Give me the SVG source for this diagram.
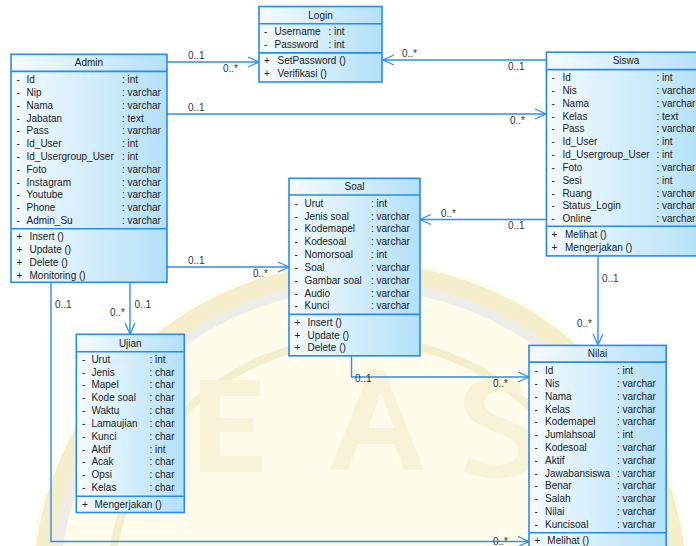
<svg xmlns="http://www.w3.org/2000/svg" width="696" height="546" viewBox="0 0 696 546">
  <defs>
    <linearGradient id="fillCls" x1="0" y1="0" x2="1" y2="0">
      <stop offset="0" stop-color="#F5FBFF"/>
      <stop offset="1" stop-color="#B3E0F8"/>
    </linearGradient>
    <marker id="open" markerUnits="userSpaceOnUse" markerWidth="14" markerHeight="14" refX="12" refY="6" orient="auto">
      <path d="M1,1 L12,6 L1,11" fill="none" stroke="#2E8DF0" stroke-width="1.3"/>
    </marker>
  </defs>
  <style>
    text { font-family: "Liberation Sans", Arial, sans-serif; font-size: 10px; fill: #222; }
    .box { fill: url(#fillCls); stroke: #2A8AEE; stroke-width: 1.6; }
    .div { stroke: #2A8AEE; stroke-width: 1.6; }
    .title { text-anchor: middle; }
    .conn { fill: none; stroke: #2E8DF0; stroke-width: 1.4; }
    .lbl { fill: #333; }
    .wm { fill: none; stroke: #F3ECC4; }
  </style>

  <rect width="696" height="546" fill="#FFFFFF"/>

  <!-- faint emblem in the background -->
  <g id="emblem" opacity="0.85">
    <circle cx="360" cy="590" r="330" fill="#FFFCE8"/>
    <circle class="wm" cx="360" cy="590" r="318" stroke-width="18"/>
    <circle cx="360" cy="590" r="305" fill="none" stroke="#ECEBE4" stroke-width="10"/>
    <circle class="wm" cx="360" cy="590" r="250" stroke-width="8"/>
    <path d="M200,380 h60 v16 h-40 v22 h34 v14 h-34 v24 h42 v16 h-62 z" fill="#F6F0D2"/>
    <path d="M330,470 l40,-100 h14 l40,100 h-20 l-10,-26 h-36 l-10,26 z M368,428 h26 l-13,-36 z" fill="#F6F0D2" fill-rule="evenodd"/>
    <path d="M520,385 c-20,-14 -56,-8 -56,18 c0,30 54,26 54,48 c0,16 -30,18 -50,6 l-4,14 c26,14 74,8 74,-22 c0,-30 -54,-28 -54,-46 c0,-14 24,-14 38,-6 z" fill="#F6F0D2"/>
  </g>

  <!-- associations -->
  <g id="connectors">
    <!-- Admin -> Login -->
    <line class="conn" x1="167" y1="62" x2="259" y2="62" marker-end="url(#open)"/>
    <text class="lbl" x="188" y="59">0..1</text>
    <text class="lbl" x="223" y="72">0..*</text>
    <!-- Siswa -> Login -->
    <line class="conn" x1="546" y1="60" x2="383" y2="60" marker-end="url(#open)"/>
    <text class="lbl" x="402" y="57">0..*</text>
    <text class="lbl" x="508" y="70">0..1</text>
    <!-- Admin -> Siswa -->
    <line class="conn" x1="167" y1="114" x2="546" y2="114" marker-end="url(#open)"/>
    <text class="lbl" x="188" y="111">0..1</text>
    <text class="lbl" x="510" y="124">0..*</text>
    <!-- Siswa -> Soal -->
    <line class="conn" x1="546" y1="219.5" x2="420" y2="219.5" marker-end="url(#open)"/>
    <text class="lbl" x="441" y="216.5">0..*</text>
    <text class="lbl" x="508" y="229">0..1</text>
    <!-- Admin -> Soal -->
    <line class="conn" x1="167" y1="267" x2="289" y2="267" marker-end="url(#open)"/>
    <text class="lbl" x="188" y="264">0..1</text>
    <text class="lbl" x="253" y="277">0..*</text>
    <!-- Admin -> Ujian -->
    <line class="conn" x1="130" y1="282" x2="130" y2="334" marker-end="url(#open)"/>
    <text class="lbl" x="134.5" y="308">0..1</text>
    <text class="lbl" x="110" y="316">0..*</text>
    <!-- Admin -> Nilai -->
    <polyline class="conn" points="51,282 51,541.5 529,541.5" marker-end="url(#open)"/>
    <text class="lbl" x="55" y="308">0..1</text>
    <text class="lbl" x="493" y="545">0..*</text>
    <!-- Siswa -> Nilai -->
    <line class="conn" x1="598" y1="256" x2="598" y2="345" marker-end="url(#open)"/>
    <text class="lbl" x="602" y="282">0..1</text>
    <text class="lbl" x="577" y="327">0..*</text>
    <!-- Soal -> Nilai -->
    <polyline class="conn" points="351.5,356 351.5,377 529,377" marker-end="url(#open)"/>
    <text class="lbl" x="355" y="382">0..1</text>
    <text class="lbl" x="493" y="387">0..*</text>
  </g>

  <!-- Login -->
  <g id="login">
    <rect class="box" x="259" y="6.5" width="123" height="75.5"/>
    <line class="div" x1="259" y1="23.7" x2="382" y2="23.7"/>
    <line class="div" x1="259" y1="52.9" x2="382" y2="52.9"/>
    <text class="title" x="320.5" y="19.2">Login</text>
    <text x="264" y="35.2">-</text><text x="274.5" y="35.2">Username</text><text x="328.5" y="35.2">: int</text>
    <text x="264" y="48.1">-</text><text x="274.5" y="48.1">Password</text><text x="328.5" y="48.1">: int</text>
    <text x="264" y="64.4">+</text><text x="277.5" y="64.4">SetPassword ()</text>
    <text x="264" y="77.3">+</text><text x="277.5" y="77.3">Verifikasi ()</text>
  </g>

  <!-- Admin -->
  <g id="admin">
    <rect class="box" x="11" y="54.3" width="156" height="228"/>
    <line class="div" x1="11" y1="71.4" x2="167" y2="71.4"/>
    <line class="div" x1="11" y1="228.8" x2="167" y2="228.8"/>
    <text class="title" x="89" y="66">Admin</text>
    <g>
      <text x="16.5" y="83">-</text><text x="26.5" y="83">Id</text><text x="122" y="83">: int</text>
      <text x="16.5" y="95.8">-</text><text x="26.5" y="95.8">Nip</text><text x="122" y="95.8">: varchar</text>
      <text x="16.5" y="108.6">-</text><text x="26.5" y="108.6">Nama</text><text x="122" y="108.6">: varchar</text>
      <text x="16.5" y="121.5">-</text><text x="26.5" y="121.5">Jabatan</text><text x="122" y="121.5">: text</text>
      <text x="16.5" y="134.3">-</text><text x="26.5" y="134.3">Pass</text><text x="122" y="134.3">: varchar</text>
      <text x="16.5" y="147.1">-</text><text x="26.5" y="147.1">Id_User</text><text x="122" y="147.1">: int</text>
      <text x="16.5" y="159.9">-</text><text x="26.5" y="159.9">Id_Usergroup_User</text><text x="122" y="159.9">: int</text>
      <text x="16.5" y="172.7">-</text><text x="26.5" y="172.7">Foto</text><text x="122" y="172.7">: varchar</text>
      <text x="16.5" y="185.6">-</text><text x="26.5" y="185.6">Instagram</text><text x="122" y="185.6">: varchar</text>
      <text x="16.5" y="198.4">-</text><text x="26.5" y="198.4">Youtube</text><text x="122" y="198.4">: varchar</text>
      <text x="16.5" y="211.2">-</text><text x="26.5" y="211.2">Phone</text><text x="122" y="211.2">: varchar</text>
      <text x="16.5" y="224">-</text><text x="26.5" y="224">Admin_Su</text><text x="122" y="224">: varchar</text>
    </g>
    <text x="16.5" y="240.3">+</text><text x="29.5" y="240.3">Insert ()</text>
    <text x="16.5" y="253.1">+</text><text x="29.5" y="253.1">Update ()</text>
    <text x="16.5" y="265.9">+</text><text x="29.5" y="265.9">Delete ()</text>
    <text x="16.5" y="278.7">+</text><text x="29.5" y="278.7">Monitoring ()</text>
  </g>

  <!-- Siswa -->
  <g id="siswa">
    <rect class="box" x="546.4" y="52.2" width="160" height="203.7"/>
    <line class="div" x1="546.4" y1="69.6" x2="706" y2="69.6"/>
    <line class="div" x1="546.4" y1="226.3" x2="706" y2="226.3"/>
    <text class="title" x="626" y="64.3">Siswa</text>
    <text x="551.5" y="81.1">-</text><text x="562.4" y="81.1">Id</text><text x="656.5" y="81.1">: int</text>
    <text x="551.5" y="93.9">-</text><text x="562.4" y="93.9">Nis</text><text x="656.5" y="93.9">: varchar</text>
    <text x="551.5" y="106.7">-</text><text x="562.4" y="106.7">Nama</text><text x="656.5" y="106.7">: varchar</text>
    <text x="551.5" y="119.6">-</text><text x="562.4" y="119.6">Kelas</text><text x="656.5" y="119.6">: text</text>
    <text x="551.5" y="132.4">-</text><text x="562.4" y="132.4">Pass</text><text x="656.5" y="132.4">: varchar</text>
    <text x="551.5" y="145.2">-</text><text x="562.4" y="145.2">Id_User</text><text x="656.5" y="145.2">: int</text>
    <text x="551.5" y="158">-</text><text x="562.4" y="158">Id_Usergroup_User</text><text x="656.5" y="158">: int</text>
    <text x="551.5" y="170.8">-</text><text x="562.4" y="170.8">Foto</text><text x="656.5" y="170.8">: varchar</text>
    <text x="551.5" y="183.7">-</text><text x="562.4" y="183.7">Sesi</text><text x="656.5" y="183.7">: int</text>
    <text x="551.5" y="196.5">-</text><text x="562.4" y="196.5">Ruang</text><text x="656.5" y="196.5">: varchar</text>
    <text x="551.5" y="209.3">-</text><text x="562.4" y="209.3">Status_Login</text><text x="656.5" y="209.3">: varchar</text>
    <text x="551.5" y="222.1">-</text><text x="562.4" y="222.1">Online</text><text x="656.5" y="222.1">: varchar</text>
    <text x="551.5" y="238.2">+</text><text x="565" y="238.2">Melihat ()</text>
    <text x="551.5" y="251">+</text><text x="565" y="251">Mengerjakan ()</text>
  </g>

  <!-- Soal -->
  <g id="soal">
    <rect class="box" x="289" y="178.3" width="131" height="177.5"/>
    <line class="div" x1="289" y1="195" x2="420" y2="195"/>
    <line class="div" x1="289" y1="314.4" x2="420" y2="314.4"/>
    <text class="title" x="354.5" y="190.1">Soal</text>
    <text x="294.5" y="206.8">-</text><text x="304.5" y="206.8">Urut</text><text x="371" y="206.8">: int</text>
    <text x="294.5" y="219.6">-</text><text x="304.5" y="219.6">Jenis soal</text><text x="371" y="219.6">: varchar</text>
    <text x="294.5" y="232.4">-</text><text x="304.5" y="232.4">Kodemapel</text><text x="371" y="232.4">: varchar</text>
    <text x="294.5" y="245.3">-</text><text x="304.5" y="245.3">Kodesoal</text><text x="371" y="245.3">: varchar</text>
    <text x="294.5" y="258.1">-</text><text x="304.5" y="258.1">Nomorsoal</text><text x="371" y="258.1">: int</text>
    <text x="294.5" y="270.9">-</text><text x="304.5" y="270.9">Soal</text><text x="371" y="270.9">: varchar</text>
    <text x="294.5" y="283.7">-</text><text x="304.5" y="283.7">Gambar soal</text><text x="371" y="283.7">: varchar</text>
    <text x="294.5" y="296.6">-</text><text x="304.5" y="296.6">Audio</text><text x="371" y="296.6">: varchar</text>
    <text x="294.5" y="309.4">-</text><text x="304.5" y="309.4">Kunci</text><text x="371" y="309.4">: varchar</text>
    <text x="294.5" y="325.9">+</text><text x="307.5" y="325.9">Insert ()</text>
    <text x="294.5" y="338.7">+</text><text x="307.5" y="338.7">Update ()</text>
    <text x="294.5" y="351.3">+</text><text x="307.5" y="351.3">Delete ()</text>
  </g>

  <!-- Ujian -->
  <g id="ujian">
    <rect class="box" x="76.3" y="334.3" width="108" height="178.2"/>
    <line class="div" x1="76.3" y1="351.7" x2="184.3" y2="351.7"/>
    <line class="div" x1="76.3" y1="496.2" x2="184.3" y2="496.2"/>
    <text class="title" x="130.3" y="347.2">Ujian</text>
    <text x="82" y="362.8">-</text><text x="91.4" y="362.8">Urut</text><text x="149.5" y="362.8">: int</text>
    <text x="82" y="375.6">-</text><text x="91.4" y="375.6">Jenis</text><text x="149.5" y="375.6">: char</text>
    <text x="82" y="388.4">-</text><text x="91.4" y="388.4">Mapel</text><text x="149.5" y="388.4">: char</text>
    <text x="82" y="401.3">-</text><text x="91.4" y="401.3">Kode soal</text><text x="149.5" y="401.3">: char</text>
    <text x="82" y="414.1">-</text><text x="91.4" y="414.1">Waktu</text><text x="149.5" y="414.1">: char</text>
    <text x="82" y="426.9">-</text><text x="91.4" y="426.9">Lamaujian</text><text x="149.5" y="426.9">: char</text>
    <text x="82" y="439.7">-</text><text x="91.4" y="439.7">Kunci</text><text x="149.5" y="439.7">: char</text>
    <text x="82" y="452.5">-</text><text x="91.4" y="452.5">Aktif</text><text x="149.5" y="452.5">: int</text>
    <text x="82" y="465.4">-</text><text x="91.4" y="465.4">Acak</text><text x="149.5" y="465.4">: char</text>
    <text x="82" y="478.2">-</text><text x="91.4" y="478.2">Opsi</text><text x="149.5" y="478.2">: char</text>
    <text x="82" y="491">-</text><text x="91.4" y="491">Kelas</text><text x="149.5" y="491">: char</text>
    <text x="82" y="508.4">+</text><text x="94.5" y="508.4">Mengerjakan ()</text>
  </g>

  <!-- Nilai -->
  <g id="nilai">
    <rect class="box" x="529" y="345.4" width="137.2" height="215"/>
    <line class="div" x1="529" y1="362.1" x2="666.2" y2="362.1"/>
    <line class="div" x1="529" y1="532.7" x2="666.2" y2="532.7"/>
    <text class="title" x="597.6" y="357.3">Nilai</text>
    <text x="534.5" y="374">-</text><text x="545" y="374">Id</text><text x="617" y="374">: int</text>
    <text x="534.5" y="386.8">-</text><text x="545" y="386.8">Nis</text><text x="617" y="386.8">: varchar</text>
    <text x="534.5" y="399.6">-</text><text x="545" y="399.6">Nama</text><text x="617" y="399.6">: varchar</text>
    <text x="534.5" y="412.5">-</text><text x="545" y="412.5">Kelas</text><text x="617" y="412.5">: varchar</text>
    <text x="534.5" y="425.3">-</text><text x="545" y="425.3">Kodemapel</text><text x="617" y="425.3">: varchar</text>
    <text x="534.5" y="438.1">-</text><text x="545" y="438.1">Jumlahsoal</text><text x="617" y="438.1">: int</text>
    <text x="534.5" y="450.9">-</text><text x="545" y="450.9">Kodesoal</text><text x="617" y="450.9">: varchar</text>
    <text x="534.5" y="463.7">-</text><text x="545" y="463.7">Aktif</text><text x="617" y="463.7">: varchar</text>
    <text x="534.5" y="476.6">-</text><text x="545" y="476.6">Jawabansiswa</text><text x="617" y="476.6">: varchar</text>
    <text x="534.5" y="489.4">-</text><text x="545" y="489.4">Benar</text><text x="617" y="489.4">: varchar</text>
    <text x="534.5" y="502.2">-</text><text x="545" y="502.2">Salah</text><text x="617" y="502.2">: varchar</text>
    <text x="534.5" y="515">-</text><text x="545" y="515">Nilai</text><text x="617" y="515">: varchar</text>
    <text x="534.5" y="527.8">-</text><text x="545" y="527.8">Kuncisoal</text><text x="617" y="527.8">: varchar</text>
    <text x="534.5" y="543.9">+</text><text x="547.3" y="543.9">Melihat ()</text>
  </g>
</svg>
